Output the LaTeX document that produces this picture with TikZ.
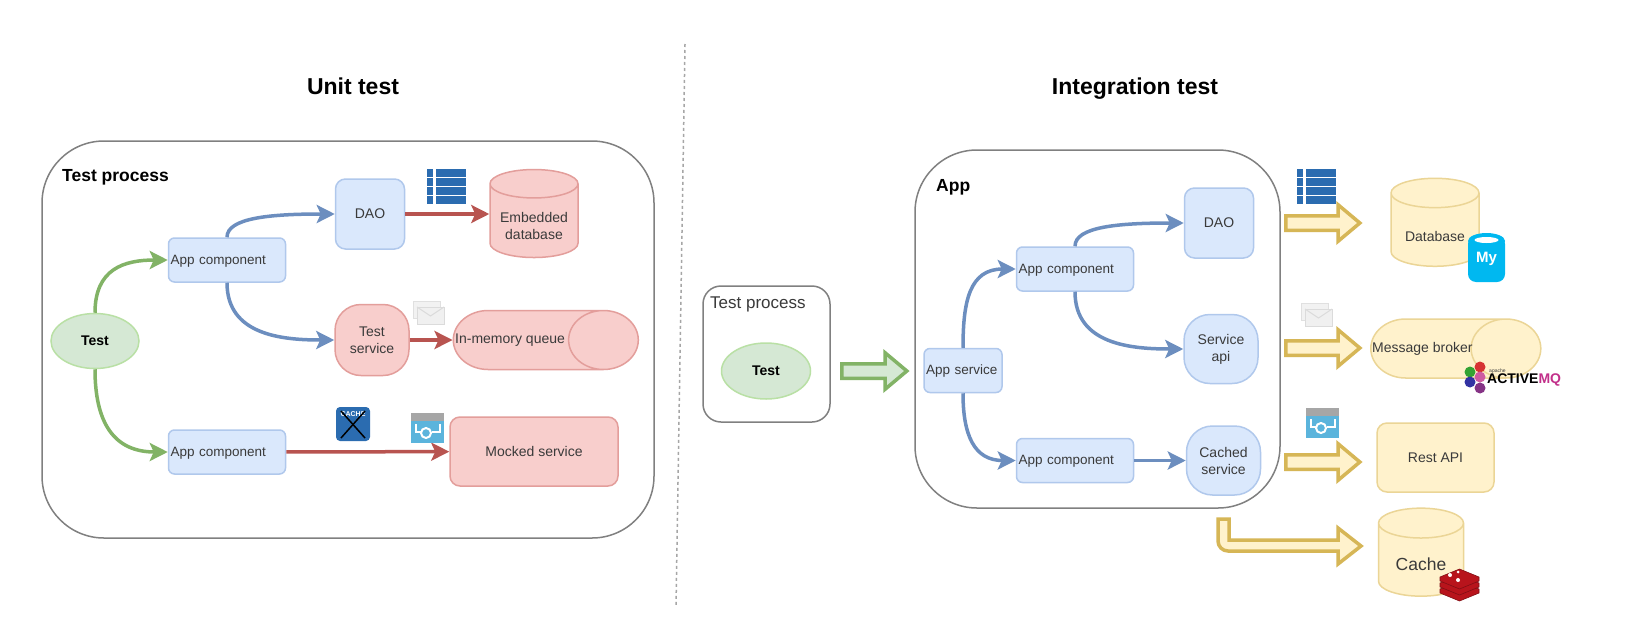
\documentclass[tikz,border=0pt]{standalone}
\usepackage{fontspec}
\setmainfont{Liberation Sans}
\usetikzlibrary{positioning, arrows.meta, shapes.geometric, shapes.arrows}

\definecolor{textgray}{HTML}{3A3A3A}
\definecolor{frameline}{HTML}{808080}
\definecolor{bluefill}{HTML}{DAE8FC}
\definecolor{blueedge}{HTML}{B0C8EC}
\definecolor{blueline}{HTML}{6C8EBF}
\definecolor{greenfill}{HTML}{D5E8D4}
\definecolor{greenedge}{HTML}{B9E0A5}
\definecolor{greenline}{HTML}{82B366}
\definecolor{redfill}{HTML}{F8CECC}
\definecolor{rededge}{HTML}{E39E9B}
\definecolor{redline}{HTML}{B85450}
\definecolor{yellowfill}{HTML}{FFF2CC}
\definecolor{yellowedge}{HTML}{EBD596}
\definecolor{yellowline}{HTML}{D6B656}
\definecolor{iconblue}{HTML}{2B6CB0}
\definecolor{apiblue}{HTML}{5BB4DC}
\definecolor{mysqlcyan}{HTML}{00B8F0}
\definecolor{redisred}{HTML}{B8141C}
\definecolor{mqpink}{HTML}{C2308A}

\newcommand{\bodyfont}{\fontsize{14}{17}\selectfont}
\newcommand{\headfont}{\fontsize{17.5}{20}\bfseries\selectfont}

\tikzset{
	every node/.style={font=\bodyfont, text=textgray, align=center},
	title/.style={font=\fontsize{23}{27}\bfseries\selectfont, text=black},
	heading/.style={font=\headfont, text=black, anchor=west, inner sep=0pt},
	frame/.style={draw=frameline, line width=1.5pt, fill=white},
	compbox/.style={rectangle, rounded corners=6pt, draw=blueedge, fill=bluefill, line width=1.5pt, text width=113pt, inner xsep=2pt, minimum height=44pt, align=left, font=\fontsize{13.5}{17}\selectfont, text depth=1pt},
	bluebox/.style={rectangle, rounded corners=10pt, draw=blueedge, fill=bluefill, line width=1.5pt, minimum width=#1, minimum height=70pt},
	bluepill/.style={rectangle, rounded corners=26pt, draw=blueedge, fill=bluefill, line width=1.5pt, minimum width=74pt, minimum height=69pt},
	testnode/.style={ellipse, draw=greenedge, fill=greenfill, line width=1.5pt, minimum width=88pt, minimum height=55pt, inner sep=0pt, font=\bodyfont\bfseries, text=black},
	redbox/.style={rectangle, rounded corners=10pt, draw=rededge, fill=redfill, line width=1.5pt},
	yellowbox/.style={rectangle, rounded corners=10pt, draw=yellowedge, fill=yellowfill, line width=1.5pt},
	drum/.style={cylinder, shape border rotate=90, shape aspect=#1, minimum width=88pt, minimum height=88pt, inner sep=0pt, line width=1.5pt},
	pipe/.style={cylinder, shape aspect=5.2, minimum width=59pt, inner sep=0pt, line width=1.5pt},
	pipetext/.style={anchor=west, inner sep=0pt},
	tip/.style={-{Stealth[length=18pt,width=18pt,inset=4pt]}},
	greenflow/.style={tip, draw=greenline, line width=3.5pt},
	blueflow/.style={tip, draw=blueline, line width=3.5pt},
	redflow/.style={tip, draw=redline, line width=3.5pt},
	blockarrow/.style={single arrow, minimum height=74pt, minimum width=34pt, single arrow head extend=11pt, single arrow tip angle=80, inner sep=5.5pt, line width=3.5pt, line join=miter, text height=0pt, text depth=0pt},
	tableicon/.pic={
		\foreach \row in {0,9,18,27} {
			\fill[iconblue] (0,\row) rectangle (6,\row+7.6);
			\fill[iconblue] (9,\row) rectangle (39,\row+7.6);
		}
	},
	mailicon/.pic={
		\draw[black!12, fill=black!5, line width=1pt] (0,0) rectangle (27,17);
		\draw[black!14, fill=black!6, line width=1pt] (4,6) rectangle (31,23);
		\draw[black!14, line width=1pt] (4,6) -- (17.5,15) -- (31,6);
	},
	apiicon/.pic={
		\fill[apiblue] (0,0) rectangle (33,30);
		\fill[black!35] (0,0) rectangle (33,8);
		\draw[white, line width=2pt] (4.5,11) -- (4.5,19) -- (11,19);
		\draw[white, line width=2pt] (15,20) circle (5pt);
		\draw[white, line width=2pt] (29,11) -- (29,19) -- (21,19);
	},
}

\begin{document}
\begin{tikzpicture}[x=1pt, y=-1pt]
	\useasboundingbox (0,0) rectangle (1627,635);
	\fill[white] (0,0) rectangle (1627,635);

	\node[title] (unittitle) at (353,86) {Unit test};
	\node[title] (integrationtitle) at (1135,89) {Integration test};
	\coordinate (splittop) at (685,44);
	\coordinate (splitbottom) at (676,607);
	\draw[frameline!70, line width=1.5pt, dashed] (splittop) -- (splitbottom);

	% unit test side
	\draw[frame, rounded corners=62pt] (42,141) rectangle (654,538);
	\node[heading] (unitlabel) at (62,177) {Test process};

	\node[testnode] (test) at (95,341) {Test};
	\node[compbox] (unitcompa) at (227,260) {App component};
	\node[compbox] (unitcompb) at (227,452) {App component};
	\node[bluebox=69pt] (unitdao) at (370,214) {DAO};
	\node[redbox, rounded corners=26pt, minimum width=74pt, minimum height=71pt] (testservice) at (372,340) {Test\\service};
	\node[drum=0.42, draw=rededge, fill=redfill, text height=38pt] (embedded) at (534,221) {Embedded\\database};
	\node[pipe, draw=rededge, fill=redfill, minimum height=185pt] (queue) at (528,340) {\rule{0pt}{13.4pt}};
	\node[pipetext] (queuetext) at (455,340) {In-memory queue};
	\node[redbox, minimum width=168pt, minimum height=69pt] (mocked) at (534,451.5) {Mocked service};

	\draw[greenflow] (test.north) to[out=90, in=180, looseness=1.25] (unitcompa.west);
	\draw[greenflow] (test.south) to[out=270, in=180, looseness=1.25] (unitcompb.west);
	\draw[blueflow] (unitcompa.north) to[out=90, in=180, out looseness=0.45, in looseness=1.5] (unitdao.west);
	\draw[blueflow] (unitcompa.south) to[out=270, in=180, looseness=1.1] (testservice.west);
	\draw[redflow] (unitdao) -- (unitdao -| embedded.west);
	\draw[redflow] (testservice) -- (queue.west);
	\draw[redflow] (unitcompb) -- (mocked);

	\pic at (427,169) {tableicon};
	\pic at (413,301) {mailicon};
	\pic at (411,413) {apiicon};
	\fill[iconblue, rounded corners=4pt] (336,407) rectangle (370,441);
	\node[font=\fontsize{7}{8}\bfseries\selectfont, text=white, inner sep=0pt] (cachelabel) at (353,414) {CACHE};
	\draw[black, line width=1.5pt] (341,411) -- (365,438);
	\draw[black, line width=1.5pt] (365,411) -- (341,438);

	% middle
	\draw[frame, rounded corners=18pt] (703,286) rectangle (830,422);
	\node[heading, font=\fontsize{17}{20}\selectfont, text=textgray] (midlabel) at (710,304) {Test process};
	\node[testnode, minimum width=89pt, minimum height=56pt] (midtest) at (766,371) {Test};
	\node[blockarrow, draw=greenline, fill=greenfill, minimum height=65pt] (enter) at (870,371) {};

	% integration test side
	\draw[frame, rounded corners=62pt] (915,150) rectangle (1280,508);
	\node[heading] (applabel) at (936,187) {App};

	\node[compbox, text width=74pt] (appservice) at (963,370.5) {App service};
	\node[compbox] (appcompa) at (1075,269) {App component};
	\node[compbox] (appcompb) at (1075,460.5) {App component};
	\node[bluebox=69pt] (appdao) at (1219,223) {DAO};
	\node[bluepill] (serviceapi) at (1221,349) {Service\\api};
	\node[bluepill] (cached) at (1223.5,460.5) {Cached\\service};

	\draw[blueflow] (appservice.north) to[out=90, in=180, looseness=1.25] (appcompa.west);
	\draw[blueflow] (appservice.south) to[out=270, in=180, looseness=1.25] (appcompb.west);
	\draw[blueflow] (appcompa.north) to[out=90, in=180, out looseness=0.45, in looseness=1.5] (appdao.west);
	\draw[blueflow] (appcompa.south) to[out=270, in=180, looseness=1.1] (serviceapi.west);
	\draw[blueflow] (appcompb) -- (cached);

	\node[blockarrow, draw=yellowline, fill=yellowfill] (dbarrow) at (1318.5,223) {};
	\node[blockarrow, draw=yellowline, fill=yellowfill] (brokerarrow) at (1318.5,348) {};
	\node[blockarrow, draw=yellowline, fill=yellowfill] (restarrow) at (1318.5,462) {};
	\draw[draw=yellowline, fill=yellowfill, line width=3.5pt, line join=miter] (1218,519) -- (1229,519) -- (1229,540) -- (1338,540) -- (1338,528) -- (1361,546) -- (1338,564) -- (1338,551) [rounded corners=10pt] -- (1218,551) [sharp corners] -- cycle;

	\node[drum=0.49, draw=yellowedge, fill=yellowfill, text height=24pt] (database) at (1435,230) {Database};
	\node[pipe, draw=yellowedge, fill=yellowfill, minimum height=170pt] (broker) at (1438,348.5) {\rule{0pt}{13.4pt}};
	\node[pipetext] (brokertext) at (1372,348.5) {Message broker};
	\node[yellowbox, minimum width=117pt, minimum height=69pt] (restapi) at (1435.5,457.5) {Rest API};
	\node[drum=0.59, draw=yellowedge, fill=yellowfill, minimum width=85pt, font=\fontsize{17.5}{20}\selectfont, text height=22pt] (cache) at (1421,560) {Cache};

	\pic at (1297,169) {tableicon};
	\pic at (1301,303) {mailicon};
	\pic at (1306,408) {apiicon};

	% mysql badge
	\fill[mysqlcyan, rounded corners=8pt] (1468,236) rectangle (1505,282);
	\fill[mysqlcyan] (1486.5,241) ellipse (18.5pt and 8pt);
	\fill[white] (1486.5,240) ellipse (12pt and 3pt);
	\node[font=\fontsize{15}{17}\bfseries\selectfont, text=white, inner sep=0pt] (mysqlbadge) at (1486.5,259) {My};

	% activemq badge
	\foreach \px/\py/\petal in {1470/372/green!55!black, 1480/367/red!80!black, 1480/377/mqpink, 1470/382/blue!55!black, 1480/388/violet!80!black} {
		\fill[\petal!80] (\px,\py) circle (5.5pt);
	}
	\node[font=\fontsize{14}{16}\bfseries\selectfont, text=black, anchor=west, inner sep=0pt] (mqbadge) at (1487,380) {ACTIVE\textcolor{mqpink}{MQ}};
	\node[font=\fontsize{5}{6}\selectfont, anchor=west, inner sep=0pt] (mqvendor) at (1489,371) {apache};

	% redis badge
	\foreach \layer in {12,6,0} {
		\draw[redisred!70!black, fill=redisred, line width=0.6pt, line join=round] (1440,577+\layer) -- (1459.5,569+\layer) -- (1479,577+\layer) -- (1479,581+\layer) -- (1459.5,589+\layer) -- (1440,581+\layer) -- cycle;
	}
	\fill[white] (1450,575) circle (2pt);
	\fill[white] (1458,580) circle (2pt);
	\fill[white] (1458,572) circle (1.5pt);
\end{tikzpicture}
\end{document}
